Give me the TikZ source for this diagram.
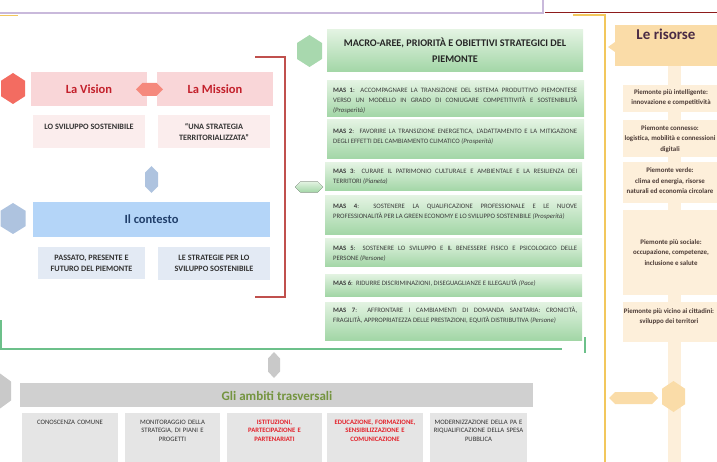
\documentclass[tikz,border=0pt]{standalone}
\usepackage{fontspec}
\setmainfont{Carlito}
\usetikzlibrary{calc}
\hyphenpenalty=10000
\exhyphenpenalty=10000
\definecolor{visbox}{HTML}{F9D6D8}
\definecolor{vissub}{HTML}{FBEDED}
\definecolor{vistext}{HTML}{C3202B}
\definecolor{corhex}{HTML}{F36C61}
\definecolor{corhexb}{HTML}{F5897D}
\definecolor{bluebox}{HTML}{B4D5F8}
\definecolor{bluesub}{HTML}{E3EAF4}
\definecolor{bluehex}{HTML}{AEC3DF}
\definecolor{bluetext}{HTML}{213F6B}
\definecolor{greentop}{HTML}{E3F3E2}
\definecolor{greenbot}{HTML}{A2D6A6}
\definecolor{greenhex}{HTML}{A8D8AE}
\definecolor{greenline}{HTML}{6CC08A}
\definecolor{redline}{HTML}{C0504D}
\definecolor{purpline}{HTML}{C9B9DB}
\definecolor{darkred}{HTML}{8E1B1B}
\definecolor{yelline}{HTML}{F2C75C}
\definecolor{peachhead}{HTML}{FADCA8}
\definecolor{peachbox}{HTML}{FDEFDA}
\definecolor{peachtext}{HTML}{4B3A35}
\definecolor{risorsetext}{HTML}{4A2B45}
\definecolor{graybar}{HTML}{D0D0D0}
\definecolor{graybox}{HTML}{E5E5E5}
\definecolor{grayhex}{HTML}{C9C9C9}
\definecolor{olive}{HTML}{74943F}
\definecolor{bottomred}{HTML}{E3222B}
\definecolor{mastext}{HTML}{3C3C3C}
\definecolor{subtext}{HTML}{333333}
\newcommand{\myfs}[2]{\fontsize{#1}{#2}\selectfont}
\newcommand{\VHex}[5]{\fill[#1] ({#2},{#3-#5/2}) -- ({#2+#4/2},{#3-#5/4}) -- ({#2+#4/2},{#3+#5/4}) -- ({#2},{#3+#5/2}) -- ({#2-#4/2},{#3+#5/4}) -- ({#2-#4/2},{#3-#5/4}) -- cycle;}
\newcommand{\HHex}[5]{\fill[#1] ({#2-#4/2},{#3}) -- ({#2-#4/2+#5/2},{#3-#5/2}) -- ({#2+#4/2-#5/2},{#3-#5/2}) -- ({#2+#4/2},{#3}) -- ({#2+#4/2-#5/2},{#3+#5/2}) -- ({#2-#4/2+#5/2},{#3+#5/2}) -- cycle;}
\begin{document}
\begin{tikzpicture}[x=1pt,y=-1pt,
  rect/.style={rectangle, inner sep=0pt, outer sep=0pt, anchor=north west, draw=none},
  lbl/.style={inner sep=0pt, align=center},
  bigtitle/.style={font=\myfs{12.5}{14}\bfseries},
  subtxt/.style={lbl, font=\myfs{8.2}{11}\bfseries, text=subtext},
  masbox/.style={rect, top color=greentop, bottom color=greenbot, minimum width=257pt},
  mastxt/.style={inner sep=0pt, anchor=base west, text width=244pt, align=justify,
     font=\myfs{6.7}{10}, text=mastext},
  pbox/.style={rect, fill=peachbox, minimum width=100pt},
  ptxt/.style={lbl, font=\myfs{6.9}{10.5}\bfseries, text=peachtext},
  bbox/.style={rect, fill=graybox, minimum height=50pt},
  btxt/.style={inner sep=0pt, anchor=base, text width=96pt, align=center, font=\myfs{6.7}{8.6}, text=subtext},
  rtxt/.style={btxt, font=\myfs{6.7}{8.6}\bfseries, text=bottomred}
]
\useasboundingbox (0,0) rectangle (717,462);
\clip (0,0) rectangle (717,462);

% frame lines
\draw[purpline, line width=1.3pt] (0,13) -- (543,13) -- (543,0);
\draw[darkred, line width=1.3pt] (545,12.5) -- (717,12.5);
\draw[yelline, line width=1pt] (0,15.5) -- (18,15.5);
\draw[yelline, line width=1.2pt] (573,15) -- (605,15) -- (605,462);
\draw[redline, line width=1.2pt] (255,57) -- (285,57) -- (285,297) -- (255,297);
\draw[greenline, line width=1.2pt] (1,320) -- (1,349) -- (562,349);
\draw[greenline, line width=1.2pt] (585,337) -- (585,353);

% Vision / Mission
\VHex{corhex}{13}{88.5}{24}{31}
\node[rect, fill=visbox, minimum width=116pt, minimum height=34pt, bigtitle, text=vistext] (vision) at (31,72) {La Vision};
\node[rect, fill=visbox, minimum width=116pt, minimum height=34pt, bigtitle, text=vistext] (mission) at (157,72) {La Mission};
\HHex{corhexb}{149.5}{89.5}{27}{13}
\node[rect, fill=vissub, minimum width=112pt, minimum height=33pt] (vissubbox) at (33,115) {};
\node[rect, fill=vissub, minimum width=112pt, minimum height=33pt] (missubbox) at (158,115) {};
\node[subtxt] (vistxt) at (89,126.5) {LO SVILUPPO SOSTENIBILE};
\node[subtxt] (mistxt) at (214,132) {“UNA STRATEGIA\\TERRITORIALIZZATA”};

% Contesto
\VHex{bluehex}{151.5}{179.5}{13}{27}
\VHex{bluehex}{13}{218.5}{25}{31}
\node[rect, fill=bluebox, minimum width=237pt, minimum height=35pt, bigtitle, text=bluetext] (contesto) at (33,202) {Il contesto};
\node[rect, fill=bluesub, minimum width=107pt, minimum height=32pt] (passato) at (38,247) {};
\node[rect, fill=bluesub, minimum width=112pt, minimum height=33pt] (strategie) at (158,247) {};
\node[subtxt] (passtxt) at (passato.center) {PASSATO, PRESENTE E\\FUTURO DEL PIEMONTE};
\node[subtxt] (strtxt) at (strategie.center) {LE STRATEGIE PER LO\\SVILUPPO SOSTENIBILE};

% Green MAS section
\VHex{greenhex}{309.5}{51}{25}{32}
\node[rect, top color=greentop, bottom color=greenbot, minimum width=256pt, minimum height=42pt] (macro) at (327,30) {};
\node[lbl, font=\myfs{10.2}{15.5}\bfseries, text=black!85] (macrotxt) at (455,50.5) {MACRO-AREE, PRIORITÀ E OBIETTIVI STRATEGICI DEL\\PIEMONTE};
\HHex{top color=greentop,bottom color=greenbot}{309}{187}{28}{11}

\node[masbox, minimum height=36pt] (mas1) at (327,81) {};
\node[masbox, minimum height=39pt] (mas2) at (327,120) {};
\node[masbox, minimum height=28pt] (mas3) at (325,163) {};
\node[masbox, minimum height=39pt] (mas4) at (325,196) {};
\node[masbox, minimum height=28pt] (mas5) at (325,239) {};
\node[masbox, minimum height=22pt] (mas6) at (325,274) {};
\node[masbox, minimum height=38pt] (mas7) at (325,302) {};

\node[mastxt] (mas1t) at (333,92.5) {\textbf{MAS 1}: ACCOMPAGNARE LA TRANSIZIONE DEL SISTEMA PRODUTTIVO PIEMONTESE\linebreak VERSO UN MODELLO IN GRADO DI CONIUGARE COMPETITIVITÀ E SOSTENIBILITÀ\linebreak \textit{(Prosperità)}};
\node[mastxt] (mas2t) at (333,133.5) {\textbf{MAS 2}:\ \ FAVORIRE LA TRANSIZIONE ENERGETICA, L’ADATTAMENTO E LA MITIGAZIONE\linebreak DEGLI EFFETTI DEL CAMBIAMENTO CLIMATICO \textit{(Prosperità)}};
\node[mastxt] (mas3t) at (333,173.5) {\textbf{MAS 3}: CURARE IL PATRIMONIO CULTURALE E AMBIENTALE E LA RESILIENZA DEI\linebreak TERRITORI \textit{(Pianeta)}};
\node[mastxt] (mas4t) at (333,208.5) {\textbf{MAS 4}: SOSTENERE LA QUALIFICAZIONE PROFESSIONALE E LE NUOVE\linebreak PROFESSIONALITÀ PER LA GREEN ECONOMY E LO SVILUPPO SOSTENIBILE \textit{(Prosperità)}};
\node[mastxt] (mas5t) at (333,250.5) {\textbf{MAS 5}: SOSTENERE LO SVILUPPO E IL BENESSERE FISICO E PSICOLOGICO DELLE\linebreak PERSONE \textit{(Persone)}};
\node[mastxt] (mas6t) at (333,285.5) {\textbf{MAS 6}:\ \ RIDURRE DISCRIMINAZIONI, DISEGUAGLIANZE E ILLEGALITÀ \textit{(Pace)}};
\node[mastxt] (mas7t) at (333,312.5) {\textbf{MAS 7}: AFFRONTARE I CAMBIAMENTI DI DOMANDA SANITARIA: CRONICITÀ,\linebreak FRAGILITÀ, APPROPRIATEZZA DELLE PRESTAZIONI, EQUITÀ DISTRIBUTIVA \textit{(Persone)}};

% Right column: Le risorse
\fill[peachbox] (668,66) rectangle (681,462);
\fill[peachhead] (615,42) -- (608,47) -- (615,52) -- cycle;
\node[rect, fill=peachhead, minimum width=102pt, minimum height=41pt] (risorse) at (615,25) {};
\node[lbl, font=\myfs{15}{16}\bfseries, text=risorsetext] (risorsetxt) at (666,34.5) {Le risorse};
\node[pbox, minimum height=27pt] (r1) at (623,85) {};
\node[pbox, minimum height=37pt] (r2) at (623,120) {};
\node[pbox, minimum height=41pt] (r3) at (623,162) {};
\node[pbox, minimum height=85pt] (r4) at (623,210) {};
\node[pbox, minimum height=40pt] (r5) at (623,302) {};
\node[ptxt] (r1t) at (671,97.5) {Piemonte più intelligente:\\innovazione e competitività};
\node[ptxt] (r2t) at (670,139) {Piemonte connesso:\\logistica, mobilità e connessioni\\digitali};
\node[ptxt] (r3t) at (670,181) {Piemonte verde:\\clima ed energia, risorse\\naturali ed economia circolare};
\node[ptxt] (r4t) at (671,252.5) {Piemonte più sociale:\\occupazione, competenze,\\inclusione e salute};
\node[ptxt] (r5t) at (669,316.5) {Piemonte più vicino ai cittadini:\\sviluppo dei territori};
\HHex{peachhead}{633.5}{398}{49}{12}
\VHex{peachhead}{673.5}{396.5}{23}{31}

% Bottom: ambiti trasversali
\VHex{grayhex}{274}{365}{12}{26}
\VHex{grayhex}{-2}{391}{26}{38}
\node[rect, fill=graybar, minimum width=513pt, minimum height=24pt] (ambiti) at (20,383) {};
\node[lbl, font=\myfs{13}{14}\bfseries, text=olive] (ambititxt) at (277,396) {Gli ambiti trasversali};
\node[bbox, minimum width=96pt] (b1) at (22,413) {};
\node[bbox, minimum width=95pt] (b2) at (125,413) {};
\node[bbox, minimum width=95pt] (b3) at (227,413) {};
\node[bbox, minimum width=96pt] (b4) at (327,413) {};
\node[bbox, minimum width=97pt] (b5) at (430,413) {};
\node[btxt] (b1t) at (70,424) {CONOSCENZA COMUNE};
\node[btxt] (b2t) at (172.5,424) {MONITORAGGIO DELLA\\STRATEGIA, DI PIANI E\\PROGETTI};
\node[rtxt] (b3t) at (274.5,424) {ISTITUZIONI,\\PARTECIPAZIONE E\\PARTENARIATI};
\node[rtxt] (b4t) at (375,424) {EDUCAZIONE, FORMAZIONE,\\SENSIBILIZZAZIONE E\\COMUNICAZIONE};
\node[btxt] (b5t) at (478.5,424) {MODERNIZZAZIONE DELLA PA E\\RIQUALIFICAZIONE DELLA SPESA\\PUBBLICA};
\end{tikzpicture}
\end{document}
